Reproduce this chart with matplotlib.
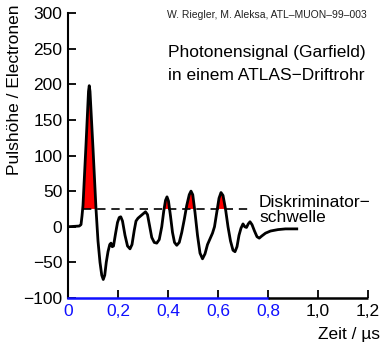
import matplotlib.pyplot as plt
import numpy as np

plt.rcParams['font.family'] = ['Liberation Sans', 'DejaVu Sans']

# Garfield photon signal: time in microseconds, pulse height in electrons
zeit = [0.000, 0.045, 0.052, 0.056, 0.060, 0.072, 0.082, 0.085, 0.088, 0.100,
        0.112, 0.120, 0.128, 0.135, 0.141, 0.147, 0.153, 0.160, 0.167, 0.172,
        0.177, 0.182, 0.190, 0.198, 0.205, 0.211, 0.218, 0.228, 0.238, 0.248,
        0.256, 0.265, 0.272, 0.280, 0.290, 0.300, 0.310, 0.318, 0.326, 0.335,
        0.345, 0.355, 0.365, 0.375, 0.383, 0.390, 0.396, 0.402, 0.410, 0.418,
        0.426, 0.435, 0.445, 0.455, 0.465, 0.475, 0.485, 0.492, 0.499, 0.508,
        0.518, 0.528, 0.538, 0.548, 0.558, 0.568, 0.578, 0.586, 0.595, 0.604,
        0.612, 0.620, 0.630, 0.640, 0.650, 0.660, 0.668, 0.676, 0.684, 0.692,
        0.700, 0.707, 0.714, 0.721, 0.728, 0.736, 0.746, 0.756, 0.765, 0.775,
        0.790, 0.810, 0.840, 0.870, 0.915]
puls = [0, 1, 3, 15, 30, 115, 190, 198, 190, 110,
        25, -20, -50, -68, -74, -68, -50, -35, -25, -23,
        -28, -27, -10, 6, 13, 14, 8, -12, -27, -31,
        -25, -5, 8, 12, 15, 18, 21, 17, 2, -15,
        -22, -23, -18, 0, 22, 37, 42, 36, 15, -8,
        -22, -26, -22, -8, 10, 30, 45, 50, 45, 20,
        -12, -37, -45, -38, -25, -17, -9, 0, 20, 40,
        48, 44, 25, 0, -20, -33, -35, -28, -12, -2,
        4, 0, -1, 4, 7, 3, -6, -14, -16, -13,
        -9, -6, -4, -3, -3]
schwelle = 25
schwelle_von, schwelle_bis = 0.060, 0.735

xticks = [0, 0.2, 0.4, 0.6, 0.8, 1.0, 1.2]
xlabels = ['0', '0,2', '0,4', '0,6', '0,8', '1,0', '1,2']
yticks = [-100, -50, 0, 50, 100, 150, 200, 250, 300]

blau = '#1010ff'
fs = 12.5

fig = plt.figure(figsize=(3.81, 3.42), dpi=100)
ax = fig.add_axes([68/381, 44/342, 300/381, 285/342])
ax.set_xlim(0, 1.2)
ax.set_ylim(-100, 300)

t = np.array(zeit)
p = np.array(puls)
ax.fill_between(t, p, schwelle, where=p > schwelle, interpolate=True,
                color='#ff0000', lw=0)
ax.plot([schwelle_von, schwelle_bis], [schwelle, schwelle], color='black',
        lw=1.2, dashes=(5, 3.5))
ax.plot(t, p, color='black', lw=2.0, solid_joinstyle='round')

ax.spines['top'].set_visible(False)
ax.spines['right'].set_visible(False)
ax.spines['left'].set_linewidth(1.5)
# bottom axis: blue under the signal range, black beyond
ax.spines['bottom'].set_bounds(0, 0.8)
ax.spines['bottom'].set_color(blau)
ax.spines['bottom'].set_linewidth(1.8)
ax.plot([0.8 / 1.2, 1.0], [0, 0], transform=ax.transAxes, color='black',
        lw=1.8, clip_on=False, solid_capstyle='butt', zorder=5)

ax.set_xticks(xticks)
ax.set_xticklabels(xlabels, fontsize=fs)
ax.set_yticks(yticks)
ax.set_yticklabels([str(v).replace('-', '\u2212') for v in yticks], fontsize=fs)
ax.tick_params(axis='both', direction='in', length=6, width=1.3)
ax.tick_params(axis='x', pad=4)
ax.tick_params(axis='y', pad=4)
for v, lab, tk in zip(xticks, ax.get_xticklabels(), ax.xaxis.get_major_ticks()):
    c = blau if v <= 0.8 else 'black'
    lab.set_color(c)
    tk.tick1line.set_color(c)
ax.xaxis.get_major_ticks()[0].tick1line.set_visible(False)

fig.text(15/381, 1 - 90/342, 'Pulshöhe / Electronen', rotation=90,
         ha='center', va='center', fontsize=fs)
fig.text(380/381, 1 - 334/342, 'Zeit / µs', ha='right', va='center',
         fontsize=fs)
fig.text(367/381, 1 - 15/342, 'W. Riegler, M. Aleksa, ATL\u2013MUON\u201399\u2013003',
         ha='right', va='center', fontsize=7.5, color='#222222')
fig.text(168/381, 1 - 53/342, 'Photonensignal (Garfield)', ha='left',
         va='center', fontsize=fs)
fig.text(168/381, 1 - 76/342, 'in einem ATLAS\u2212Driftrohr', ha='left',
         va='center', fontsize=fs)
fig.text(259/381, 1 - 206.7/342, 'Diskriminator\u2212', ha='left',
         va='baseline', fontsize=fs)
fig.text(259/381, 1 - 221.7/342, 'schwelle', ha='left', va='baseline',
         fontsize=fs)

fig.savefig('out.png', dpi=100)
